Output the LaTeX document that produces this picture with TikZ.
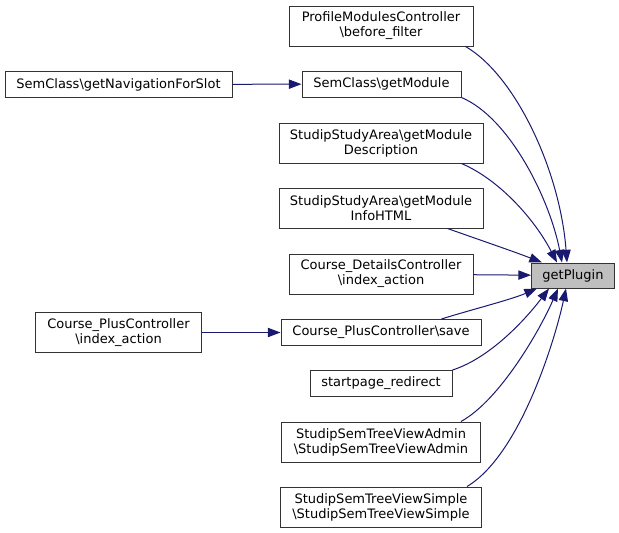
\documentclass[tikz,border=0pt]{standalone}
\usepackage{fontspec}
\setmainfont{DejaVu Sans}
\usetikzlibrary{arrows.meta,calc}
\definecolor{edgeblue}{HTML}{191970}
\definecolor{boxgray}{HTML}{BFBFBF}
\tikzset{
  fn/.style={draw=black!80, line width=0.75pt, fill=white, inner sep=0pt, align=center,
    font=\fontsize{9.75}{11.25}\selectfont, minimum height=26*0.75pt},
  fntwo/.style={fn, minimum height=40*0.75pt},
  cur/.style={fn, fill=boxgray},
  call/.style={draw=edgeblue, line width=0.75pt, -{Triangle[length=9.5pt,width=7pt,fill=edgeblue]}},
}
\begin{document}
\begin{tikzpicture}[x=0.75pt,y=-0.75pt]
\useasboundingbox (0,0) rectangle (619,533);
\node[cur, minimum width=83*0.75pt, minimum height=25*0.75pt] (plugin) at (573,275.5) {getPlugin};
\node[fntwo, minimum width=184*0.75pt] (prof) at (381,26) {ProfileModulesController\\\textbackslash before\_filter};
\node[fn, minimum width=159*0.75pt] (getmod) at (381.5,84) {SemClass\textbackslash getModule};
\node[fn, minimum width=227*0.75pt] (nav) at (118.5,84.5) {SemClass\textbackslash getNavigationForSlot};
\node[fntwo, minimum width=204*0.75pt] (desc) at (381,143) {StudipStudyArea\textbackslash getModule\\Description};
\node[fntwo, minimum width=204*0.75pt] (info) at (381,208) {StudipStudyArea\textbackslash getModule\\InfoHTML};
\node[fntwo, minimum width=184*0.75pt] (details) at (381,274) {Course\_DetailsController\\\textbackslash index\_action};
\node[fntwo, minimum width=166*0.75pt] (plusidx) at (118.5,332.5) {Course\_PlusController\\\textbackslash index\_action};
\node[fn, minimum width=200*0.75pt] (plussave) at (381,332.5) {Course\_PlusController\textbackslash save};
\node[fn, minimum width=142*0.75pt] (start) at (381,383.5) {startpage\_redirect};
\node[fntwo, minimum width=199*0.75pt] (admin) at (381,442) {StudipSemTreeViewAdmin\\\textbackslash StudipSemTreeViewAdmin};
\node[fntwo, minimum width=201*0.75pt] (simple) at (381,507) {StudipSemTreeViewSimple\\\textbackslash StudipSemTreeViewSimple};

\draw[call] (nav) -- (getmod);
\draw[call] (plusidx) -- (plussave);
\draw[call] (details) -- (plugin);
\draw[call] ($(prof.south east)+(-8,0)$) .. controls (515,75) and (560,170) .. ($(plugin.north)+(-6,0)$);
\draw[call] (getmod.south east) .. controls (510,118) and (550,200) .. ($(plugin.north)+(-11,0)$);
\draw[call] ($(desc.south east)+(-22,0)$) .. controls (500,180) and (535,220) .. ($(plugin.north)+(-16,0)$);
\draw[call] ($(info.south east)+(-36,0)$) .. controls (480,240) and (515,252) .. ($(plugin.north)+(-31,0)$);
\draw[call] ($(plussave.north east)+(-40,0)$) .. controls (470,310) and (510,300) .. ($(plugin.south)+(-36,0)$);
\draw[call] (start.north east) .. controls (490,358) and (525,320) .. ($(plugin.south)+(-24,0)$);
\draw[call] ($(admin.north east)+(-20,0)$) .. controls (500,400) and (540,330) .. ($(plugin.south)+(-15,0)$);
\draw[call] ($(simple.north east)+(-15,0)$) .. controls (520,455) and (555,340) .. ($(plugin.south)+(-7,0)$);
\end{tikzpicture}
\end{document}
